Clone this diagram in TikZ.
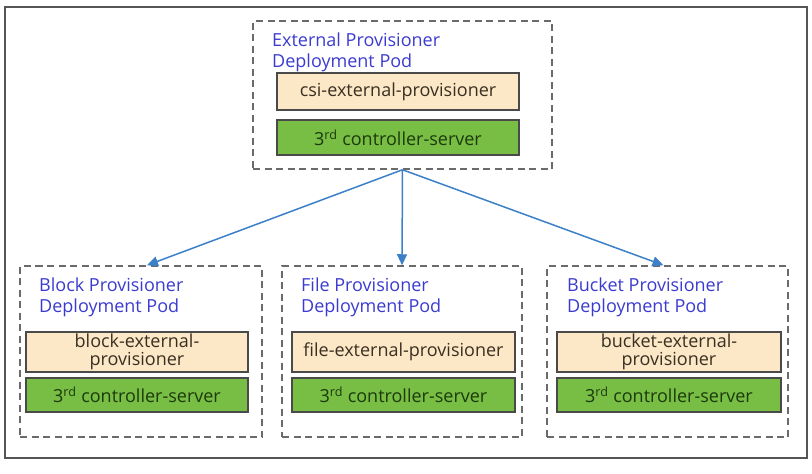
\documentclass[tikz,border=0pt]{standalone}
\usepackage{fontspec}
\setmainfont{Open Sans}
\usetikzlibrary{arrows.meta}
\definecolor{titleblue}{HTML}{3B3BD0}
\definecolor{podgray}{HTML}{6A6A6A}
\definecolor{framegray}{HTML}{555555}
\definecolor{beigefill}{HTML}{FCE7C6}
\definecolor{greenfill}{HTML}{78BD44}
\definecolor{boxline}{HTML}{4A4A4A}
\definecolor{arrowblue}{HTML}{3C80C8}
\definecolor{beigetext}{HTML}{3A3022}
\definecolor{greentext}{HTML}{1C3A0C}
\begin{document}
\begin{tikzpicture}[x=1pt,y=-1pt,
  outer/.style={draw=framegray, line width=2pt, minimum width=802pt, minimum height=451pt, inner sep=0},
  pod/.style={draw=podgray, line width=1.5pt, dash pattern=on 7pt off 4.5pt, inner sep=0},
  podtitle/.style={anchor=north west, inner sep=0, align=left, text=titleblue, font=\fontsize{18}{20.5}\selectfont},
  beigebox/.style={draw=boxline, line width=1.3pt, fill=beigefill, inner sep=0, align=center, text=beigetext, font=\fontsize{18}{17.5}\selectfont},
  greenbox/.style={draw=boxline, line width=1.3pt, fill=greenfill, inner sep=0, align=center, text=greentext, font=\fontsize{18}{17.5}\selectfont},
  conn/.style={draw=arrowblue, line width=1.5pt, -{Triangle[length=11pt,width=10pt]}}
]
\useasboundingbox (0,0) rectangle (812,474);
\node[outer] (frame) at (406,232.5) {};

% top pod
\node[pod, minimum width=299pt, minimum height=148pt] (top) at (402.5,95) {};
\node[podtitle] (toptitle) at (272,33) {External Provisioner\\Deployment Pod};
\node[beigebox, minimum width=242pt, minimum height=37pt] (csi) at (398,91.5) {csi-external-provisioner};
\node[greenbox, minimum width=242pt, minimum height=35pt] (topsrv) at (398,137.5) {3\textsuperscript{rd} controller-server};

% block pod
\node[pod, minimum width=242pt, minimum height=171pt] (block) at (141,351.5) {};
\node[podtitle] (blocktitle) at (39,278) {Block Provisioner\\Deployment Pod};
\node[beigebox, minimum width=222pt, minimum height=40pt] (blockprov) at (137,352) {block-external-\\provisioner};
\node[greenbox, minimum width=222pt, minimum height=34pt] (blocksrv) at (137,395) {3\textsuperscript{rd} controller-server};

% file pod
\node[pod, minimum width=240pt, minimum height=171pt] (file) at (402,351.5) {};
\node[podtitle] (filetitle) at (301,278) {File Provisioner\\Deployment Pod};
\node[beigebox, minimum width=223pt, minimum height=40pt] (fileprov) at (403.5,352) {file-external-provisioner};
\node[greenbox, minimum width=223pt, minimum height=34pt] (filesrv) at (403.5,395) {3\textsuperscript{rd} controller-server};

% bucket pod
\node[pod, minimum width=241pt, minimum height=171pt] (bucket) at (667.5,351.5) {};
\node[podtitle] (buckettitle) at (567,278) {Bucket Provisioner\\Deployment Pod};
\node[beigebox, minimum width=224pt, minimum height=40pt] (bucketprov) at (669,352) {bucket-external-\\provisioner};
\node[greenbox, minimum width=224pt, minimum height=34pt] (bucketsrv) at (669,395) {3\textsuperscript{rd} controller-server};

% connectors
\draw[conn] (top.south) -- ([xshift=6pt]block.north);
\draw[conn] (top.south) -- (file.north);
\draw[conn] (top.south) -- ([xshift=-4pt]bucket.north);
\end{tikzpicture}
\end{document}
